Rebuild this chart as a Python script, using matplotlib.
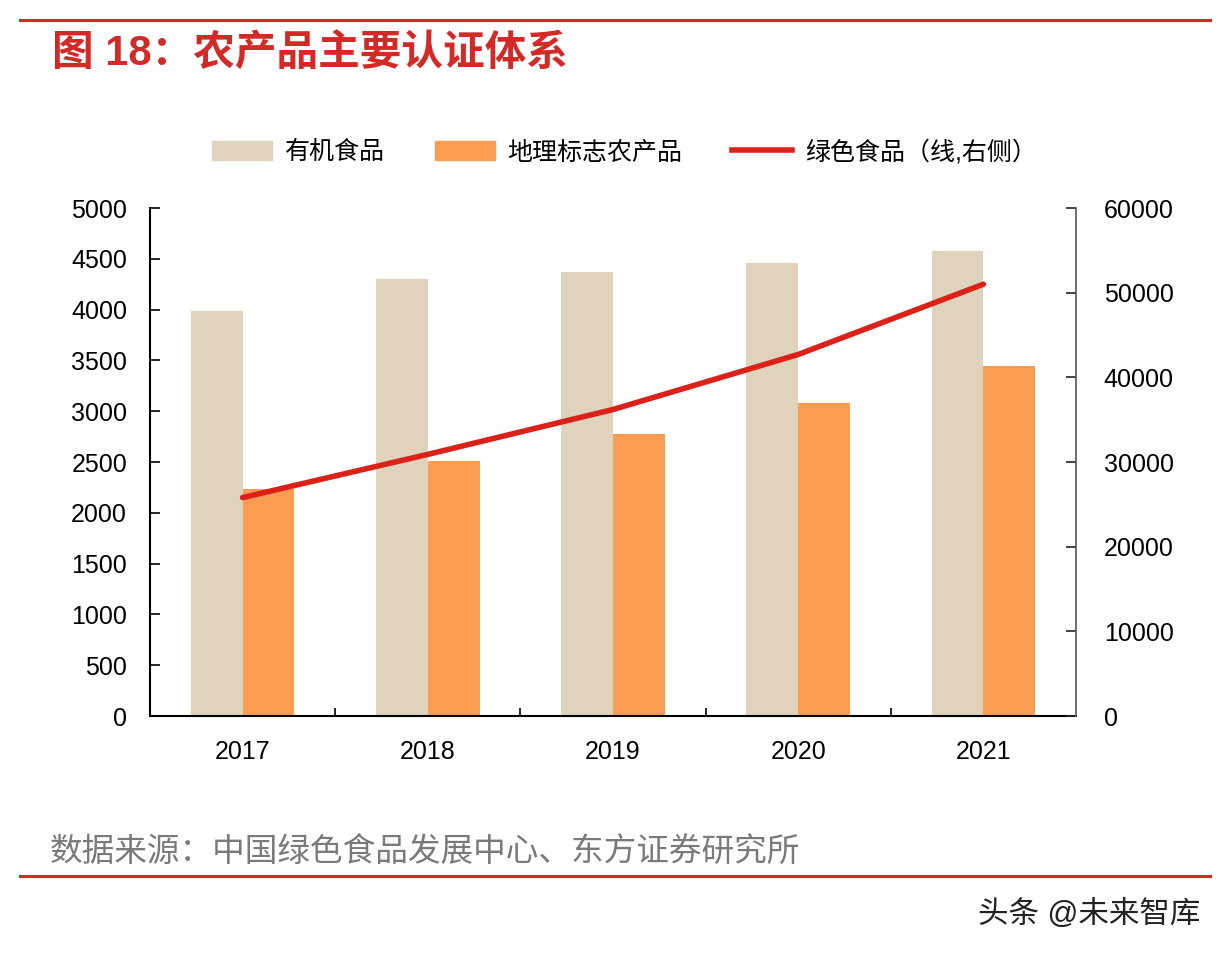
import matplotlib
matplotlib.use("Agg")
import matplotlib.pyplot as plt
from matplotlib.patches import Patch
from matplotlib.lines import Line2D
from matplotlib.ticker import FixedLocator

plt.rcParams['font.family'] = ['Liberation Sans', 'Noto Sans CJK SC', 'DejaVu Sans']

years = ['2017', '2018', '2019', '2020', '2021']
organic = [3990, 4300, 4370, 4455, 4575]
geo = [2230, 2510, 2775, 3080, 3445]
green = [25800, 30900, 36200, 42700, 51000]

left_ticks = [0, 500, 1000, 1500, 2000, 2500, 3000, 3500, 4000, 4500, 5000]
right_ticks = [0, 10000, 20000, 30000, 40000, 50000, 60000]

c_org = '#DFD3BB'
c_geo = '#FA9D52'
c_line = '#DC2119'
c_red = '#D42A27'

fig = plt.figure(figsize=(12.28, 9.6), dpi=100)
ax = fig.add_axes([150/1228, 1-716/960, 926/1228, 508/960])
x = list(range(len(years)))
w = 0.28
ax.bar([i - w/2 for i in x], organic, width=w, color=c_org, zorder=2)
ax.bar([i + w/2 for i in x], geo, width=w, color=c_geo, zorder=2)
ax.set_xlim(-0.5, 4.5)
ax.set_ylim(0, 5000)
ax.set_yticks(left_ticks)
ax.set_yticklabels([str(v) for v in left_ticks])
ax.set_xticks(x)
ax.set_xticklabels(years)
ax.xaxis.set_minor_locator(FixedLocator([0.5, 1.5, 2.5, 3.5]))
ax.tick_params(axis='x', which='major', length=0, labelsize=18, pad=17)
ax.tick_params(axis='x', which='minor', direction='in', length=6, width=1.2)
ax.tick_params(axis='y', direction='in', length=7, width=1.2, labelsize=18, pad=16.5)
for s in ['top', 'right']:
    ax.spines[s].set_visible(False)
ax.spines['left'].set_linewidth(1.5)
ax.spines['bottom'].set_linewidth(1.5)

ax2 = ax.twinx()
ax2.plot(x, green, color=c_line, lw=4, solid_capstyle='round', zorder=3)
ax2.set_ylim(0, 60000)
ax2.set_yticks(right_ticks)
ax2.set_yticklabels([str(v) for v in right_ticks])
ax2.tick_params(axis='y', direction='in', length=7, width=1.2, labelsize=18, pad=20, colors='#222222')
ax2.tick_params(axis='y', labelcolor='black')
for s in ['top', 'left', 'bottom']:
    ax2.spines[s].set_visible(False)
ax2.spines['right'].set_color('#555555')
ax2.spines['right'].set_linewidth(1.2)

handles = [Patch(color=c_org, label='有机食品'),
           Patch(color=c_geo, label='地理标志农产品'),
           Line2D([0], [0], color=c_line, lw=4, label='绿色食品（线,右侧）')]
fig.legend(handles=handles, loc='center', bbox_to_anchor=(0.5085, 1-152/960), ncol=3,
           frameon=False, fontsize=18, handlelength=2.4, handleheight=0.8,
           columnspacing=2.0, handletextpad=0.5)

# decorations
fig.add_artist(Line2D([20/1228, 1210/1228], [1-20/960, 1-20/960], color=c_red, lw=2.2))
fig.add_artist(Line2D([20/1228, 1210/1228], [1-876/960, 1-876/960], color=c_red, lw=2.2))
fig.text(52/1228, 1-54/960, '图 18：农产品主要认证体系', color=c_red, fontsize=30,
         fontweight='bold', va='center', ha='left')
fig.text(50/1228, 1-852/960, '数据来源：中国绿色食品发展中心、东方证券研究所', color='#7a7a7a',
         fontsize=23.5, va='center', ha='left')
fig.text(1200/1228, 1-915/960, '头条 @未来智库', color='#222222', fontsize=22,
         va='center', ha='right')

fig.savefig('out.png', dpi=100)
